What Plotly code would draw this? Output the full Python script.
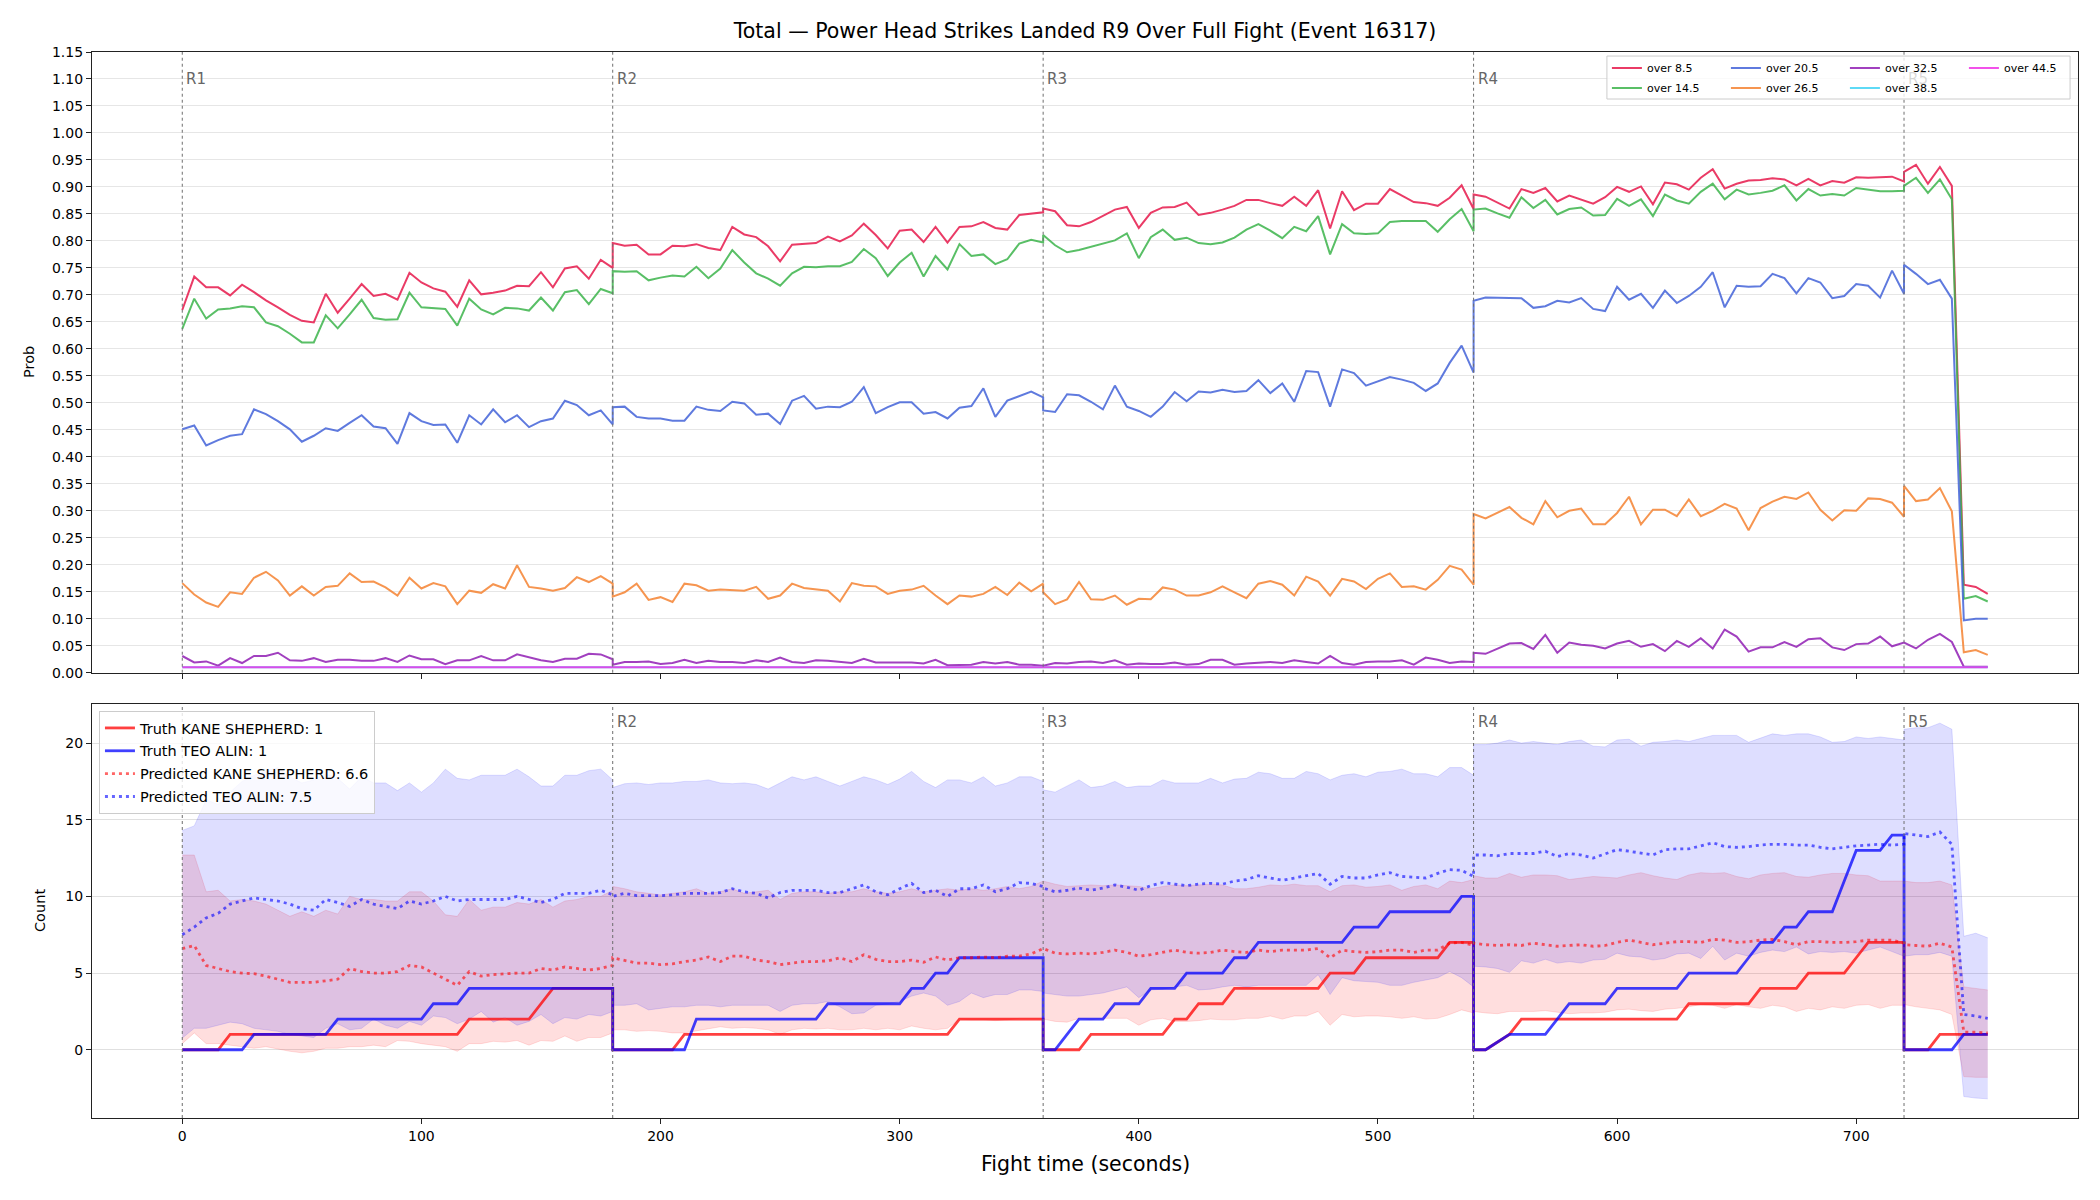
import plotly.graph_objects as go

# ---------------- data ----------------
ROUND_STARTS = [0, 180, 360, 540, 720]
ROUND_LABELS = ["R1", "R2", "R3", "R4", "R5"]
SAMPLE_STEP = 5
SAMPLES_PER_ROUND = [37, 37, 37, 37, 8]

TITLE = "Total \u2014 Power Head Strikes Landed R9 Over Full Fight (Event 16317)"
PROB_NAMES = ["over 8.5", "over 14.5", "over 20.5", "over 26.5", "over 32.5", "over 38.5", "over 44.5"]

OVER_8_5 = [
    0.672, 0.734, 0.714, 0.714, 0.699, 0.719, 0.705, 0.690, 0.677, 0.663, 0.652, 0.649, 0.702, 0.667, 0.693, 0.720, 0.698, 0.702, 0.691, 0.741, 0.723, 0.712, 0.706, 0.678, 0.727, 0.701, 0.704, 0.708, 0.717, 0.716, 0.742, 0.714, 0.749, 0.753, 0.730, 0.765, 0.750,
    0.796, 0.791, 0.793, 0.775, 0.775, 0.791, 0.790, 0.794, 0.787, 0.783, 0.826, 0.812, 0.807, 0.790, 0.762, 0.793, 0.794, 0.796, 0.808, 0.799, 0.810, 0.832, 0.811, 0.786, 0.819, 0.821, 0.798, 0.826, 0.797, 0.826, 0.827, 0.835, 0.824, 0.821, 0.848, 0.851, 0.853,
    0.860, 0.855, 0.829, 0.827, 0.835, 0.847, 0.858, 0.863, 0.824, 0.852, 0.862, 0.863, 0.871, 0.848, 0.852, 0.858, 0.865, 0.876, 0.876, 0.870, 0.865, 0.882, 0.865, 0.894, 0.823, 0.892, 0.857, 0.869, 0.869, 0.896, 0.884, 0.872, 0.870, 0.865, 0.880, 0.903, 0.859,
    0.886, 0.882, 0.871, 0.860, 0.896, 0.889, 0.898, 0.873, 0.884, 0.876, 0.869, 0.881, 0.900, 0.891, 0.901, 0.868, 0.908, 0.905, 0.895, 0.917, 0.933, 0.897, 0.906, 0.912, 0.913, 0.916, 0.914, 0.903, 0.915, 0.903, 0.911, 0.908, 0.918, 0.917, 0.918, 0.919, 0.910,
    0.928, 0.941, 0.906, 0.937, 0.902, 0.163, 0.159, 0.146,
]
OVER_14_5 = [
    0.637, 0.693, 0.656, 0.673, 0.675, 0.679, 0.677, 0.649, 0.642, 0.628, 0.612, 0.612, 0.662, 0.638, 0.664, 0.691, 0.657, 0.654, 0.655, 0.704, 0.677, 0.675, 0.674, 0.643, 0.693, 0.673, 0.664, 0.676, 0.675, 0.671, 0.695, 0.671, 0.705, 0.709, 0.683, 0.711, 0.703,
    0.744, 0.743, 0.744, 0.727, 0.732, 0.736, 0.734, 0.752, 0.731, 0.749, 0.783, 0.760, 0.740, 0.730, 0.717, 0.740, 0.752, 0.751, 0.753, 0.753, 0.761, 0.785, 0.768, 0.735, 0.760, 0.778, 0.734, 0.772, 0.747, 0.794, 0.772, 0.775, 0.757, 0.766, 0.795, 0.802, 0.797,
    0.811, 0.792, 0.779, 0.783, 0.789, 0.796, 0.801, 0.814, 0.768, 0.807, 0.821, 0.802, 0.806, 0.796, 0.794, 0.797, 0.806, 0.821, 0.831, 0.819, 0.805, 0.826, 0.818, 0.846, 0.775, 0.831, 0.814, 0.813, 0.814, 0.835, 0.837, 0.837, 0.837, 0.817, 0.840, 0.859, 0.818,
    0.858, 0.860, 0.851, 0.843, 0.881, 0.861, 0.876, 0.849, 0.859, 0.862, 0.847, 0.848, 0.878, 0.865, 0.877, 0.846, 0.886, 0.875, 0.869, 0.891, 0.906, 0.877, 0.895, 0.886, 0.889, 0.893, 0.903, 0.875, 0.896, 0.884, 0.887, 0.884, 0.898, 0.895, 0.892, 0.892, 0.893,
    0.902, 0.917, 0.889, 0.914, 0.877, 0.137, 0.142, 0.132,
]
OVER_20_5 = [
    0.451, 0.458, 0.421, 0.431, 0.439, 0.442, 0.488, 0.479, 0.466, 0.451, 0.428, 0.439, 0.453, 0.448, 0.463, 0.477, 0.456, 0.453, 0.424, 0.481, 0.466, 0.459, 0.460, 0.426, 0.477, 0.460, 0.488, 0.464, 0.477, 0.455, 0.466, 0.471, 0.504, 0.496, 0.477, 0.486, 0.460,
    0.492, 0.493, 0.474, 0.471, 0.471, 0.467, 0.467, 0.493, 0.487, 0.485, 0.502, 0.499, 0.478, 0.480, 0.461, 0.504, 0.513, 0.489, 0.493, 0.492, 0.502, 0.529, 0.481, 0.492, 0.501, 0.501, 0.480, 0.483, 0.471, 0.491, 0.494, 0.527, 0.474, 0.504, 0.512, 0.521, 0.510,
    0.486, 0.483, 0.516, 0.514, 0.502, 0.488, 0.532, 0.493, 0.485, 0.474, 0.493, 0.520, 0.503, 0.521, 0.519, 0.524, 0.520, 0.522, 0.542, 0.518, 0.536, 0.502, 0.559, 0.557, 0.493, 0.562, 0.555, 0.532, 0.540, 0.548, 0.543, 0.537, 0.522, 0.536, 0.574, 0.606, 0.556,
    0.689, 0.695, 0.695, 0.695, 0.694, 0.676, 0.679, 0.689, 0.686, 0.694, 0.674, 0.670, 0.715, 0.691, 0.702, 0.676, 0.708, 0.685, 0.698, 0.715, 0.742, 0.677, 0.717, 0.715, 0.716, 0.739, 0.731, 0.703, 0.731, 0.723, 0.694, 0.698, 0.720, 0.717, 0.695, 0.745, 0.702,
    0.756, 0.739, 0.720, 0.728, 0.693, 0.097, 0.100, 0.100,
]
OVER_26_5 = [
    0.166, 0.145, 0.130, 0.122, 0.149, 0.146, 0.176, 0.187, 0.171, 0.143, 0.160, 0.143, 0.159, 0.161, 0.184, 0.168, 0.169, 0.158, 0.143, 0.176, 0.156, 0.166, 0.160, 0.127, 0.152, 0.148, 0.164, 0.156, 0.199, 0.159, 0.156, 0.152, 0.157, 0.177, 0.168, 0.179, 0.165,
    0.141, 0.149, 0.165, 0.135, 0.140, 0.131, 0.165, 0.162, 0.152, 0.154, 0.153, 0.152, 0.159, 0.137, 0.143, 0.165, 0.157, 0.154, 0.152, 0.132, 0.166, 0.161, 0.160, 0.146, 0.152, 0.154, 0.161, 0.143, 0.127, 0.143, 0.141, 0.146, 0.159, 0.144, 0.167, 0.151, 0.165,
    0.149, 0.127, 0.136, 0.168, 0.136, 0.135, 0.143, 0.126, 0.137, 0.136, 0.158, 0.154, 0.143, 0.143, 0.149, 0.160, 0.149, 0.138, 0.165, 0.170, 0.163, 0.143, 0.178, 0.169, 0.143, 0.174, 0.169, 0.155, 0.174, 0.184, 0.159, 0.160, 0.154, 0.172, 0.198, 0.191, 0.163,
    0.294, 0.286, 0.296, 0.307, 0.287, 0.275, 0.318, 0.288, 0.300, 0.304, 0.275, 0.275, 0.296, 0.326, 0.275, 0.302, 0.302, 0.290, 0.321, 0.290, 0.300, 0.313, 0.304, 0.264, 0.305, 0.317, 0.326, 0.322, 0.334, 0.302, 0.282, 0.301, 0.300, 0.323, 0.322, 0.315, 0.289,
    0.346, 0.318, 0.321, 0.342, 0.299, 0.038, 0.042, 0.033,
]
OVER_32_5 = [
    0.031, 0.019, 0.021, 0.013, 0.027, 0.018, 0.031, 0.031, 0.037, 0.023, 0.022, 0.027, 0.020, 0.024, 0.024, 0.022, 0.022, 0.027, 0.020, 0.032, 0.025, 0.025, 0.016, 0.023, 0.023, 0.031, 0.023, 0.023, 0.034, 0.029, 0.023, 0.020, 0.026, 0.026, 0.035, 0.034, 0.025,
    0.015, 0.020, 0.020, 0.021, 0.016, 0.018, 0.024, 0.018, 0.022, 0.020, 0.020, 0.018, 0.023, 0.020, 0.028, 0.020, 0.018, 0.023, 0.022, 0.020, 0.018, 0.026, 0.019, 0.019, 0.019, 0.019, 0.017, 0.024, 0.014, 0.015, 0.015, 0.020, 0.017, 0.020, 0.015, 0.015, 0.013,
    0.013, 0.018, 0.017, 0.020, 0.021, 0.018, 0.023, 0.015, 0.017, 0.016, 0.016, 0.019, 0.015, 0.016, 0.024, 0.024, 0.015, 0.017, 0.019, 0.020, 0.018, 0.023, 0.020, 0.017, 0.031, 0.018, 0.015, 0.020, 0.021, 0.021, 0.023, 0.015, 0.028, 0.024, 0.018, 0.021, 0.020,
    0.037, 0.035, 0.045, 0.054, 0.055, 0.044, 0.070, 0.037, 0.056, 0.052, 0.050, 0.045, 0.054, 0.059, 0.048, 0.053, 0.040, 0.059, 0.048, 0.064, 0.045, 0.080, 0.067, 0.039, 0.047, 0.047, 0.057, 0.048, 0.062, 0.064, 0.047, 0.042, 0.053, 0.054, 0.067, 0.049, 0.056,
    0.056, 0.045, 0.061, 0.072, 0.057, 0.011, 0.011, 0.011,
]
OVER_38_5 = [
    0.010, 0.010, 0.010, 0.010, 0.010, 0.010, 0.010, 0.010, 0.010, 0.010, 0.010, 0.010, 0.010, 0.010, 0.010, 0.010, 0.010, 0.010, 0.010, 0.010, 0.010, 0.010, 0.010, 0.010, 0.010, 0.010, 0.010, 0.010, 0.010, 0.010, 0.010, 0.010, 0.010, 0.010, 0.010, 0.010, 0.010,
    0.010, 0.010, 0.010, 0.010, 0.010, 0.010, 0.010, 0.010, 0.010, 0.010, 0.010, 0.010, 0.010, 0.010, 0.010, 0.010, 0.010, 0.010, 0.010, 0.010, 0.010, 0.010, 0.010, 0.010, 0.010, 0.010, 0.010, 0.010, 0.010, 0.010, 0.010, 0.010, 0.010, 0.010, 0.010, 0.010, 0.010,
    0.010, 0.010, 0.010, 0.010, 0.010, 0.010, 0.010, 0.010, 0.010, 0.010, 0.010, 0.010, 0.010, 0.010, 0.010, 0.010, 0.010, 0.010, 0.010, 0.010, 0.010, 0.010, 0.010, 0.010, 0.010, 0.010, 0.010, 0.010, 0.010, 0.010, 0.010, 0.010, 0.010, 0.010, 0.010, 0.010, 0.010,
    0.010, 0.010, 0.010, 0.010, 0.010, 0.010, 0.010, 0.010, 0.010, 0.010, 0.010, 0.010, 0.010, 0.010, 0.010, 0.010, 0.010, 0.010, 0.010, 0.010, 0.010, 0.010, 0.010, 0.010, 0.010, 0.010, 0.010, 0.010, 0.010, 0.010, 0.010, 0.010, 0.010, 0.010, 0.010, 0.010, 0.010,
    0.010, 0.010, 0.010, 0.010, 0.010, 0.010, 0.010, 0.010,
]
OVER_44_5 = list(OVER_38_5)  # read identical: both sit flat at ~0.01

# bottom panel: truth counts (None = sample missing, line joins across it)
TRUTH_KANE = [
    0, 0, 0, 0, 1, 1, 1, 1, 1, 1, 1, 1, 1, 1, 1, 1, 1, 1, 1, 1, 1, 1, 1, 1, 2, 2, 2, 2, 2, 2, 3, 4, 4, 4, 4, 4, 4,
    0, 0, 0, 0, 0, 0, 1, 1, 1, 1, 1, 1, 1, 1, 1, 1, 1, 1, 1, 1, 1, 1, 1, 1, 1, 1, 1, 1, 1, 2, 2, 2, 2, 2, 2, 2, 2,
    0, 0, 0, 0, 1, 1, 1, 1, 1, 1, 1, 2, 2, 3, 3, 3, 4, 4, 4, 4, 4, 4, 4, 4, 5, 5, 5, 6, 6, 6, 6, 6, 6, 6, 7, 7, 7,
    0, 0, None, 1, 2, 2, 2, 2, 2, 2, 2, 2, 2, 2, 2, 2, 2, 2, 3, 3, 3, 3, 3, 3, 4, 4, 4, 4, 5, 5, 5, 5, 6, 7, 7, 7, 7,
    0, 0, 0, 1, 1, 1, 1, 1,
]
TRUTH_TEO = [
    0, 0, 0, 0, 0, 0, 1, 1, 1, 1, 1, 1, 1, 2, 2, 2, 2, 2, 2, 2, 2, 3, 3, 3, 4, 4, 4, 4, 4, 4, 4, 4, 4, 4, 4, 4, 4,
    0, 0, 0, 0, 0, 0, 0, 2, 2, 2, 2, 2, 2, 2, 2, 2, 2, 2, 3, 3, 3, 3, 3, 3, 3, 4, 4, 5, 5, 6, 6, 6, 6, 6, 6, 6, 6,
    0, 0, 1, 2, 2, 2, 3, 3, 3, 4, 4, 4, 5, 5, 5, 5, 6, 6, 7, 7, 7, 7, 7, 7, 7, 7, 8, 8, 8, 9, 9, 9, 9, 9, 9, 10, 10,
    0, 0, None, 1, 1, 1, 1, 2, 3, 3, 3, 3, 4, 4, 4, 4, 4, 4, 5, 5, 5, 5, 5, 6, 7, 7, 8, 8, 9, 9, 9, 11, 13, 13, 13, 14, 14,
    0, 0, 0, 0, 0, 1, 1, 1,
]
PRED_KANE = [
    6.6, 6.8, 5.5, 5.3, 5.1, 5.0, 4.96, 4.8, 4.6, 4.4, 4.4, 4.4, 4.5, 4.6, 5.3, 5.1, 5.0, 5.0, 5.1, 5.5, 5.4, 5.0, 4.6, 4.2, 5.1, 4.8, 4.9, 4.96, 5.0, 5.0, 5.3, 5.2, 5.4, 5.3, 5.2, 5.3, 5.5,
    6.0, 5.8, 5.65, 5.65, 5.55, 5.6, 5.75, 5.85, 6.05, 5.75, 6.1, 6.1, 5.85, 5.75, 5.55, 5.65, 5.75, 5.75, 5.8, 6.0, 5.75, 6.2, 5.9, 5.75, 5.75, 5.85, 5.7, 6.05, 5.85, 6.0, 6.0, 6.05, 6.0, 6.1, 6.1, 6.25, 6.55,
    6.6, 6.3, 6.25, 6.3, 6.25, 6.35, 6.5, 6.35, 6.1, 6.2, 6.35, 6.5, 6.35, 6.3, 6.35, 6.5, 6.4, 6.35, 6.5, 6.4, 6.5, 6.5, 6.5, 6.6, 6.0, 6.5, 6.4, 6.35, 6.4, 6.5, 6.5, 6.35, 6.5, 6.5, 6.95, 7.0, 6.8,
    6.95, 6.85, 6.8, 6.85, 6.8, 6.95, 6.85, 6.75, 6.8, 6.85, 6.75, 6.8, 7.0, 7.15, 7.0, 6.85, 6.95, 7.05, 7.05, 7.0, 7.2, 7.15, 7.0, 7.05, 7.15, 7.2, 7.05, 6.85, 7.05, 7.05, 7.0, 7.0, 7.05, 7.15, 7.15, 7.15, 6.95,
    6.85, 6.8, 6.75, 6.95, 6.7, 1.15, 1.15, 1.1,
]
PRED_TEO = [
    7.5, 8.0, 8.6, 8.9, 9.5, 9.7, 9.9, 9.8, 9.7, 9.5, 9.2, 9.1, 9.8, 9.6, 9.35, 9.8, 9.5, 9.35, 9.2, 9.7, 9.5, 9.7, 10.0, 9.7, 9.8, 9.8, 9.8, 9.8, 10.0, 9.8, 9.6, 9.8, 10.2, 10.2, 10.2, 10.4, 10.1,
    10.0, 10.2, 10.05, 10.05, 10.05, 10.1, 10.2, 10.2, 10.2, 10.25, 10.5, 10.3, 10.2, 9.9, 10.25, 10.4, 10.4, 10.4, 10.25, 10.25, 10.5, 10.75, 10.3, 10.1, 10.5, 10.85, 10.25, 10.4, 10.0, 10.5, 10.5, 10.75, 10.3, 10.5, 10.9, 10.85, 10.65,
    10.55, 10.3, 10.4, 10.55, 10.4, 10.55, 10.75, 10.6, 10.4, 10.7, 10.9, 10.8, 10.7, 10.8, 10.85, 10.8, 11.0, 11.1, 11.35, 11.2, 11.05, 11.2, 11.35, 11.5, 10.8, 11.3, 11.2, 11.2, 11.4, 11.55, 11.3, 11.25, 11.2, 11.5, 11.75, 11.7, 11.3,
    12.7, 12.7, 12.65, 12.8, 12.8, 12.8, 12.95, 12.6, 12.8, 12.7, 12.5, 12.8, 13.05, 12.95, 12.8, 12.7, 13.05, 13.1, 13.1, 13.3, 13.5, 13.25, 13.2, 13.25, 13.35, 13.4, 13.4, 13.35, 13.35, 13.2, 13.1, 13.2, 13.3, 13.35, 13.4, 13.35, 13.4,
    14.1, 14.0, 13.9, 14.2, 13.4, 2.3, 2.2, 2.05,
]
KANE_LOW = [
    0.4, 1.1, 0.4, 0.4, 0.3, 0.2, 0.1, 0.2, 0.05, -0.1, -0.2, -0.1, 0.1, 0.1, 0.2, 0.2, 0.3, 0.2, 0.6, 0.55, 0.4, 0.3, 0.2, -0.1, 0.4, 0.4, 0.55, 0.5, 0.6, 0.3, 0.6, 0.55, 0.9, 0.55, 0.8, 0.8, 1.1,
    1.3, 1.3, 1.2, 1.25, 1.2, 1.1, 1.1, 1.25, 1.4, 1.5, 1.4, 1.45, 1.4, 1.3, 1.0, 1.3, 1.4, 1.35, 1.4, 1.3, 1.3, 1.4, 1.3, 1.4, 1.3, 1.55, 1.4, 1.3, 1.4, 2.0, 1.95, 1.95, 1.9, 1.95, 2.05, 2.05, 2.05,
    2.0, 1.85, 1.8, 2.05, 1.95, 2.05, 2.05, 2.05, 1.6, 1.95, 2.05, 1.85, 1.85, 1.9, 2.0, 1.95, 1.95, 2.05, 2.05, 2.2, 2.0, 2.2, 2.2, 2.5, 1.6, 2.3, 2.15, 2.2, 2.2, 2.15, 2.05, 2.15, 2.0, 2.05, 2.3, 2.6, 2.4,
    2.5, 2.4, 2.35, 2.5, 2.5, 2.5, 2.55, 2.45, 2.35, 2.4, 2.4, 2.45, 2.6, 2.65, 2.55, 2.5, 2.65, 2.7, 2.8, 2.95, 2.9, 2.7, 2.95, 2.8, 2.7, 2.9, 2.8, 2.5, 2.7, 2.6, 2.8, 2.7, 2.9, 2.95, 2.7, 2.9, 2.9,
    2.95, 2.8, 2.7, 2.6, 2.3, -1.75, -1.8, -1.8,
]
KANE_HIGH = [
    12.7, 12.7, 10.3, 10.4, 9.7, 9.8, 9.7, 9.5, 9.1, 8.7, 9.0, 8.7, 9.1, 8.85, 10.0, 9.8, 9.8, 9.7, 9.7, 10.3, 10.3, 9.7, 8.8, 8.7, 9.8, 9.1, 9.3, 9.3, 9.6, 9.5, 9.8, 9.3, 9.7, 9.8, 10.0, 10.0, 10.4,
    10.65, 10.5, 10.3, 10.2, 10.1, 10.2, 10.3, 10.5, 10.2, 10.3, 10.5, 10.2, 10.3, 10.4, 9.8, 10.2, 10.3, 10.3, 10.2, 10.3, 10.3, 10.5, 10.3, 10.2, 10.3, 10.5, 10.3, 10.4, 10.5, 10.4, 10.5, 10.4, 10.5, 10.65, 10.5, 10.65, 11.0,
    11.0, 10.8, 10.65, 10.7, 10.75, 10.7, 10.75, 10.7, 10.65, 10.5, 10.65, 10.75, 10.7, 10.75, 10.8, 10.75, 10.5, 10.5, 10.6, 10.75, 10.7, 10.8, 10.7, 10.7, 10.3, 10.7, 10.75, 10.6, 10.65, 10.75, 10.4, 10.65, 10.75, 10.5, 11.0, 10.9, 11.1,
    11.35, 11.2, 11.2, 11.5, 11.25, 11.4, 11.4, 11.35, 11.1, 11.2, 11.3, 11.25, 11.2, 11.4, 11.55, 11.35, 11.2, 11.1, 11.4, 11.55, 11.5, 11.55, 11.3, 11.15, 11.4, 11.5, 11.55, 11.3, 11.25, 11.4, 11.5, 11.5, 11.4, 11.35, 11.0, 11.0, 11.0,
    11.0, 10.9, 10.9, 11.0, 10.75, 4.1, 4.0, 3.9,
]
TEO_LOW = [
    0.76, 1.4, 1.4, 1.6, 1.8, 1.7, 1.4, 1.3, 1.2, 1.0, 0.9, 0.8, 1.4, 1.7, 1.3, 1.4, 2.0, 1.6, 1.4, 1.85, 1.6, 2.2, 2.1, 1.7, 2.0, 2.5, 1.8, 2.1, 1.6, 1.85, 2.3, 1.7, 2.1, 2.0, 2.3, 2.2, 2.5,
    2.9, 2.9, 3.0, 2.6, 2.7, 2.8, 2.8, 2.9, 2.9, 2.8, 2.9, 2.9, 2.9, 2.9, 2.5, 2.9, 3.0, 3.0, 3.15, 2.8, 2.35, 2.4, 2.9, 3.0, 3.15, 3.5, 3.7, 3.5, 2.9, 3.15, 3.7, 3.4, 3.6, 3.6, 3.9, 3.9, 3.8,
    3.7, 3.6, 3.5, 3.5, 3.6, 3.7, 3.9, 4.1, 3.4, 3.9, 3.95, 4.1, 4.2, 3.9, 3.95, 4.1, 4.2, 4.1, 4.2, 4.2, 4.2, 4.2, 4.2, 4.9, 3.6, 4.7, 4.5, 4.45, 4.4, 4.2, 4.2, 4.4, 4.55, 4.7, 5.1, 4.7, 4.1,
    5.45, 5.4, 5.3, 5.05, 5.8, 5.65, 5.9, 5.65, 5.75, 5.65, 5.85, 5.9, 6.3, 6.1, 6.05, 5.85, 5.95, 6.25, 6.3, 5.95, 6.75, 5.85, 6.3, 6.1, 6.35, 6.5, 6.4, 6.7, 6.25, 6.4, 6.35, 6.4, 6.3, 6.5, 6.7, 6.4, 6.1,
    6.1, 6.2, 6.2, 6.35, 6.1, -3.05, -3.15, -3.2,
]
TEO_HIGH = [
    14.3, 14.6, 16.3, 16.0, 16.8, 17.5, 17.9, 18.2, 18.4, 17.8, 17.4, 17.6, 18.0, 17.7, 17.0, 17.8, 17.4, 17.4, 16.9, 17.4, 16.8, 17.4, 18.3, 17.7, 17.6, 17.9, 17.9, 17.9, 18.3, 17.8, 17.2, 17.2, 17.9, 17.9, 18.2, 18.3, 17.6,
    17.1, 17.35, 17.4, 17.3, 17.4, 17.4, 17.5, 17.5, 17.6, 17.4, 17.35, 17.4, 17.3, 17.0, 17.4, 17.8, 17.6, 17.8, 17.5, 17.2, 17.5, 17.8, 17.6, 17.3, 17.65, 18.15, 17.5, 17.1, 17.6, 17.6, 17.4, 17.8, 17.2, 17.4, 17.8, 17.8, 17.5,
    16.95, 16.8, 17.2, 17.6, 17.1, 17.2, 17.5, 17.1, 17.2, 17.2, 17.6, 17.4, 17.4, 17.4, 17.7, 17.4, 17.65, 17.7, 18.1, 18.0, 17.7, 17.7, 18.15, 18.0, 17.6, 17.9, 18.0, 17.8, 18.1, 18.15, 18.3, 18.0, 18.0, 17.8, 18.4, 18.4, 17.9,
    19.9, 19.9, 20.0, 20.2, 20.0, 20.1, 20.0, 19.9, 20.1, 20.2, 19.8, 19.75, 20.2, 20.25, 19.8, 20.05, 20.1, 20.2, 20.1, 20.3, 20.5, 20.5, 20.5, 20.05, 20.3, 20.6, 20.5, 20.6, 20.6, 20.4, 20.05, 20.1, 20.4, 20.3, 20.4, 20.3, 20.2,
    20.9, 21.0, 21.0, 21.3, 20.9, 7.4, 7.6, 7.3,
]

# ---------------- figure ----------------
time = []
for start, n in zip(ROUND_STARTS, SAMPLES_PER_ROUND):
    time += [start + SAMPLE_STEP * i for i in range(n)]

PROB_SERIES = [OVER_8_5, OVER_14_5, OVER_20_5, OVER_26_5, OVER_32_5, OVER_38_5, OVER_44_5]
PROB_COLORS = ["rgba(230,25,75,0.85)", "rgba(60,180,75,0.85)", "rgba(67,99,216,0.85)",
               "rgba(245,130,49,0.85)", "rgba(145,30,180,0.85)", "rgba(66,212,244,0.85)",
               "rgba(240,50,230,0.85)"]
# matplotlib legend fills column-first (2 rows x 4 cols)
PROB_LEGEND = ["legend", "legend2", "legend", "legend2", "legend", "legend2", "legend"]

FONT = "DejaVu Sans"
fig = go.Figure()

for name, vals, col, lg in zip(PROB_NAMES, PROB_SERIES, PROB_COLORS, PROB_LEGEND):
    fig.add_trace(go.Scatter(x=time, y=vals, mode="lines", name=name,
                             line=dict(color=col, width=2), legend=lg,
                             xaxis="x", yaxis="y"))

# bands
fig.add_trace(go.Scatter(x=time, y=KANE_LOW, mode="lines", line=dict(color="rgba(255,0,0,0.12)", width=1),
                         showlegend=False, xaxis="x2", yaxis="y2", hoverinfo="skip"))
fig.add_trace(go.Scatter(x=time, y=KANE_HIGH, mode="lines", line=dict(color="rgba(255,0,0,0.12)", width=1),
                         fill="tonexty", fillcolor="rgba(255,0,0,0.13)",
                         showlegend=False, xaxis="x2", yaxis="y2", hoverinfo="skip"))
fig.add_trace(go.Scatter(x=time, y=TEO_LOW, mode="lines", line=dict(color="rgba(0,0,255,0.12)", width=1),
                         showlegend=False, xaxis="x2", yaxis="y2", hoverinfo="skip"))
fig.add_trace(go.Scatter(x=time, y=TEO_HIGH, mode="lines", line=dict(color="rgba(0,0,255,0.12)", width=1),
                         fill="tonexty", fillcolor="rgba(0,0,255,0.13)",
                         showlegend=False, xaxis="x2", yaxis="y2", hoverinfo="skip"))

fig.add_trace(go.Scatter(x=time, y=TRUTH_KANE, mode="lines", connectgaps=True,
                         name="Truth KANE SHEPHERD: %d" % TRUTH_KANE[-1],
                         line=dict(color="rgba(255,0,0,0.75)", width=2.8),
                         legend="legend3", legendgroup="a", xaxis="x2", yaxis="y2"))
fig.add_trace(go.Scatter(x=time, y=TRUTH_TEO, mode="lines", connectgaps=True,
                         name="Truth TEO ALIN: %d" % TRUTH_TEO[-1],
                         line=dict(color="rgba(0,0,255,0.75)", width=2.8),
                         legend="legend3", legendgroup="b", xaxis="x2", yaxis="y2"))
fig.add_trace(go.Scatter(x=time, y=PRED_KANE, mode="lines",
                         name="Predicted KANE SHEPHERD: %.1f" % PRED_KANE[0],
                         line=dict(color="rgba(255,0,0,0.6)", width=2.8, dash="3px,4px"),
                         legend="legend3", legendgroup="c", xaxis="x2", yaxis="y2"))
fig.add_trace(go.Scatter(x=time, y=PRED_TEO, mode="lines",
                         name="Predicted TEO ALIN: %.1f" % PRED_TEO[0],
                         line=dict(color="rgba(0,0,255,0.6)", width=2.8, dash="3px,4px"),
                         legend="legend3", legendgroup="d", xaxis="x2", yaxis="y2"))

XRANGE = [-37.75, 792.75]
axis_common = dict(showline=True, linecolor="#222222", linewidth=1.3, mirror=True,
                   ticks="outside", ticklen=5, tickwidth=1.1, tickcolor="#222222",
                   zeroline=False, tickfont=dict(family=FONT, size=14, color="#000"))

fig.update_layout(
    width=2100, height=1200,
    margin=dict(l=92, r=22, t=52, b=82),
    paper_bgcolor="white", plot_bgcolor="white",
    font=dict(family=FONT, size=14, color="#000"),
    title=dict(text=TITLE, x=0.5, xanchor="center", xref="paper",
               y=1 - 31 / 1200, yref="container", yanchor="middle",
               font=dict(family=FONT, size=20.5, color="#000")),
    xaxis=dict(domain=[0, 1], anchor="y", range=XRANGE, tickvals=[0, 100, 200, 300, 400, 500, 600, 700],
               showticklabels=False, showgrid=False, **axis_common),
    yaxis=dict(domain=[0.4177, 1], anchor="x", range=[0, 1.15], dtick=0.05, tick0=0, tickformat=".2f",
               showgrid=True, gridcolor="#e6e6e6", gridwidth=1, **axis_common),
    xaxis2=dict(domain=[0, 1], anchor="y2", range=XRANGE, tickvals=[0, 100, 200, 300, 400, 500, 600, 700],
                showgrid=False, **axis_common),
    yaxis2=dict(domain=[0, 0.3884], anchor="x2", range=[-4.45, 22.55], dtick=5, tick0=0,
                showgrid=True, gridcolor="#e0e0e0", gridwidth=1, **axis_common),
    legend=dict(orientation="h", x=0.7628, xanchor="left", y=0.985, yanchor="middle",
                bgcolor="rgba(0,0,0,0)", borderwidth=0, entrywidth=74, entrywidthmode="pixels",
                font=dict(family=FONT, size=11, color="#000"), traceorder="normal"),
    legend2=dict(orientation="h", x=0.7628, xanchor="left", y=0.9662, yanchor="middle",
                 bgcolor="rgba(0,0,0,0)", borderwidth=0, entrywidth=74, entrywidthmode="pixels",
                 font=dict(family=FONT, size=11, color="#000"), traceorder="normal"),
    legend3=dict(orientation="v", x=0.0035, xanchor="left", y=0.3818, yanchor="top",
                 bgcolor="rgba(255,255,255,0.8)", bordercolor="#cccccc", borderwidth=1,
                 font=dict(family=FONT, size=14.5, color="#000"), tracegroupgap=1,
                 traceorder="grouped"),
    showlegend=True,
)

shapes = []
annotations = []
for start, lab in zip(ROUND_STARTS, ROUND_LABELS):
    for xa, ya in (("x", "y"), ("x2", "y2")):
        shapes.append(dict(type="line", xref=xa, yref=ya + " domain", x0=start, x1=start, y0=0, y1=1,
                           line=dict(color="#6e6e6e", width=1, dash="dot"), layer="above"))
        if ya == "y2" and lab == "R1":
            continue  # hidden under the count-panel legend in the reference
        faint = (ya == "y" and lab == "R5")
        annotations.append(dict(text=lab, xref=xa, yref=ya + " domain", x=start, y=0.957,
                                xanchor="left", yanchor="middle", xshift=2, showarrow=False,
                                font=dict(family=FONT, size=15,
                                          color="rgba(100,100,100,0.25)" if faint else "#666666")))

# frame behind the two-row legend of the probability panel
shapes.append(dict(type="rect", xref="paper", yref="paper", x0=0.7628, x1=0.996, y0=0.9559, y1=0.9962,
                   fillcolor="rgba(255,255,255,0.8)", line=dict(color="#cccccc", width=1), layer="above"))

annotations += [
    dict(text="Prob", xref="paper", yref="paper", x=(29 - 92) / 1986, y=(1118 - 362) / 1066,
         textangle=-90, showarrow=False, xanchor="center", yanchor="middle",
         font=dict(family=FONT, size=14.5, color="#000")),
    dict(text="Count", xref="paper", yref="paper", x=(40 - 92) / 1986, y=(1118 - 911) / 1066,
         textangle=-90, showarrow=False, xanchor="center", yanchor="middle",
         font=dict(family=FONT, size=14.5, color="#000")),
    dict(text="Fight time (seconds)", xref="paper", yref="paper", x=0.5, y=(1118 - 1164) / 1066,
         showarrow=False, xanchor="center", yanchor="middle",
         font=dict(family=FONT, size=20.5, color="#000")),
]
fig.update_layout(shapes=shapes, annotations=annotations)

fig.write_html("out.html")
